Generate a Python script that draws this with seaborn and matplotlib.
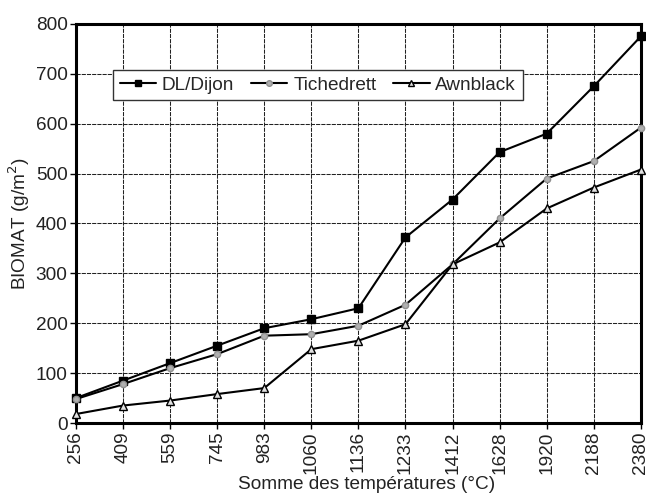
import numpy as np
import pandas as pd
import matplotlib
matplotlib.use("Agg")
import matplotlib.pyplot as plt
import seaborn as sns

temps = ["256", "409", "559", "745", "983", "1060", "1136", "1233", "1412", "1628", "1920", "2188", "2380"]
dl_dijon = [50, 85, 120, 155, 190, 208, 230, 372, 448, 543, 580, 675, 775]
tichedrett = [48, 78, 110, 138, 175, 178, 195, 237, 318, 410, 490, 525, 592]
awnblack = [18, 35, 45, 58, 70, 148, 165, 198, 318, 362, 430, 472, 508]
series_names = ["DL/Dijon", "Tichedrett", "Awnblack"]
y_ticks = [0, 100, 200, 300, 400, 500, 600, 700, 800]

sns.set_theme(style="white")
plt.rcParams['font.family'] = ['Liberation Sans', 'DejaVu Sans']
FS = 13.7

pos = np.arange(len(temps))
df = pd.DataFrame({
    "pos": np.tile(pos, 3),
    "val": dl_dijon + tichedrett + awnblack,
    "serie": np.repeat(series_names, len(temps)),
})

fig = plt.figure(figsize=(6.46, 4.98), dpi=100)
ax = fig.add_axes([0.1176, 0.1506, 0.8744, 0.8014])

styles = {
    "DL/Dijon": dict(marker="s", ms=5.2, mfc="black", mec="black"),
    "Tichedrett": dict(marker="o", ms=4.5, mfc="#b0b0b0", mec="#909090"),
    "Awnblack": dict(marker="^", ms=5.2, mfc="#e0e0e0", mec="black"),
}
for name in series_names:
    sub = df[df.serie == name]
    st = styles[name]
    sns.lineplot(data=sub, x="pos", y="val", ax=ax, color="black", lw=1.5,
                 marker=st["marker"], markersize=st["ms"],
                 markerfacecolor=st["mfc"], markeredgecolor=st["mec"],
                 markeredgewidth=1, label=name, clip_on=False, zorder=3)

ax.set_xlim(0, len(temps) - 1)
ax.set_ylim(0, 800)
ax.set_xticks(pos)
ax.set_xticklabels(temps, rotation=90, fontsize=FS)
ax.set_yticks(y_ticks)
ax.set_yticklabels([str(v) for v in y_ticks], fontsize=FS)
ax.grid(True, color="#222222", lw=0.75, ls=(0, (4, 1)))
ax.set_axisbelow(True)
for s in ax.spines.values():
    s.set_visible(True)
    s.set_color("black")
    s.set_linewidth(2.2)
ax.tick_params(axis="both", direction="out", length=4, width=1, color="black",
               bottom=True, left=True, pad=2, colors="#222222")
ax.set_xlabel("Somme des températures (°C)", fontsize=FS, color="#222222")
ax.xaxis.set_label_coords(0.515, -0.132)
ax.set_ylabel("BIOMAT (g/m$^2$)", fontsize=FS, labelpad=3, color="#222222")

leg = ax.legend(loc="upper left", bbox_to_anchor=(0.066, 0.885), ncol=3, fontsize=FS,
                frameon=True, fancybox=False, edgecolor="#333333", framealpha=1,
                handlelength=1.9, handletextpad=0.3, columnspacing=0.9,
                borderpad=0.35, borderaxespad=0, markerscale=0.9)
leg.get_frame().set_linewidth(1)

fig.savefig("out.png", dpi=100)
